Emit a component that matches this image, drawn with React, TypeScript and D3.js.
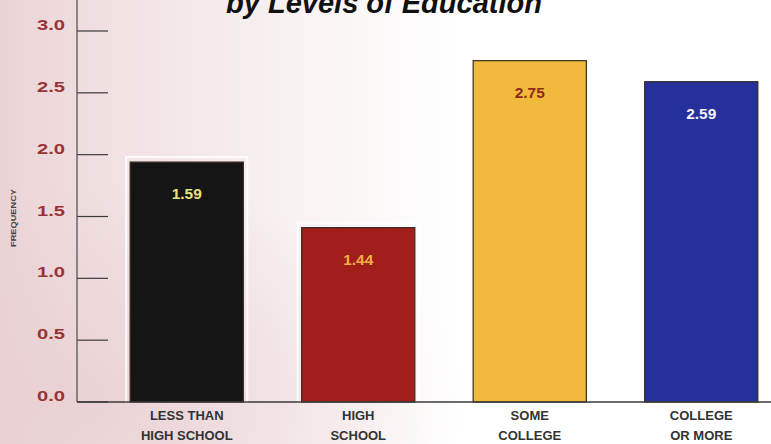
import { useEffect } from "react";
import * as d3 from "d3";

const categories = ["LESS THAN|HIGH SCHOOL", "HIGH|SCHOOL", "SOME|COLLEGE", "COLLEGE|OR MORE"];
// bar heights as drawn in the picture
const barValues = [1.94, 1.41, 2.76, 2.59];
// the value labels printed on the bars
const valueLabels = ["1.59", "1.44", "2.75", "2.59"];
const barColors = ["#151515", "#a11e1a", "#f1ba3c", "#25309b"];
const labelColors = ["#e9e27a", "#f2b046", "#8c2b18", "#f4f4f8"];
const yTicks = [0, 0.5, 1, 1.5, 2, 2.5, 3];

const W = 771;
const H = 444;

export default function App() {
  useEffect(() => {
    document.body.style.margin = "0";
  }, []);

  const x = d3
    .scaleBand<string>()
    .domain(categories)
    .range([101, 787])
    .paddingInner(0.34)
    .paddingOuter(0.17);

  const y = d3.scaleLinear().domain([0, 3]).range([402, 31]);
  const axisX = 77;
  const sans = "'Liberation Sans', Arial, sans-serif";

  return (
    <svg width={W} height={H} style={{ display: "block" }}>
      <defs>
        <linearGradient id="bg" x1="0" y1="0" x2="1" y2="0">
          <stop offset="0" stopColor="#ead3d6" />
          <stop offset="0.12" stopColor="#f0dfe0" />
          <stop offset="0.4" stopColor="#f9f3f3" />
          <stop offset="0.6" stopColor="#ffffff" />
        </linearGradient>
        <radialGradient id="blot" cx="0.1" cy="0.9" r="0.5">
          <stop offset="0" stopColor="#e8cfd2" stopOpacity="0.8" />
          <stop offset="1" stopColor="#e8cfd2" stopOpacity="0" />
        </radialGradient>
      </defs>
      <rect width={W} height={H} fill="url(#bg)" />
      <rect width={W} height={H} fill="url(#blot)" />

      {/* title (first line is off the top of the picture, as in the source) */}
      <text
        x={384}
        y={13}
        textAnchor="middle"
        fontFamily={sans}
        fontWeight="bold"
        fontStyle="italic"
        fontSize={29}
        fill="#111"
      >
        by Levels of Education
      </text>

      {/* y axis title */}
      <text
        transform="translate(16,218) rotate(-90)"
        textAnchor="middle"
        fontFamily={sans}
        fontWeight="bold"
        fontSize={7.5}
        textLength={58}
        lengthAdjust="spacingAndGlyphs"
        fill="#444"
      >
        FREQUENCY
      </text>

      {/* ticks and tick labels */}
      {yTicks.map((t) => (
        <g key={t}>
          <line x1={axisX} x2={108} y1={y(t)} y2={y(t)} stroke="#3a3a3a" strokeWidth={1.2} />
          <text
            x={65}
            y={y(t) - 1}
            textAnchor="end"
            fontFamily={sans}
            fontWeight="bold"
            fontSize={15}
            textLength={28}
            lengthAdjust="spacingAndGlyphs"
            fill="#9a3434"
          >
            {d3.format(".1f")(t)}
          </text>
        </g>
      ))}

      {/* bars */}
      {categories.map((c, i) => {
        const bx = x(c) ?? 0;
        const bw = x.bandwidth();
        const top = y(barValues[i]);
        const lines = c.split("|");
        return (
          <g key={c}>
            <rect
              x={bx - 4}
              y={top - 5}
              width={bw + 8}
              height={y(0) - top + 5}
              fill="none"
              stroke="#ffffff"
              strokeOpacity={0.8}
              strokeWidth={2}
            />
            <rect
              x={bx}
              y={top}
              width={bw}
              height={y(0) - top}
              fill={barColors[i]}
              stroke="#3b2a22"
              strokeWidth={1.2}
            />
            <text
              x={bx + bw / 2}
              y={top + 37}
              textAnchor="middle"
              fontFamily={sans}
              fontWeight="bold"
              fontSize={15}
              textLength={valueLabels[i].length * 7.5}
              lengthAdjust="spacingAndGlyphs"
              fill={labelColors[i]}
            >
              {valueLabels[i]}
            </text>
            {lines.map((ln, j) => (
              <text
                key={j}
                x={bx + bw / 2}
                y={420 + j * 20}
                textAnchor="middle"
                fontFamily={sans}
                fontWeight="bold"
                fontSize={13}
                fill="#333"
              >
                {ln}
              </text>
            ))}
          </g>
        );
      })}

      {/* axis lines */}
      <line x1={axisX} x2={axisX} y1={0} y2={y(0)} stroke="#4a4a4a" strokeWidth={1.2} />
      <line x1={axisX} x2={W} y1={y(0)} y2={y(0)} stroke="#3a3a3a" strokeWidth={1.4} />
    </svg>
  );
}
